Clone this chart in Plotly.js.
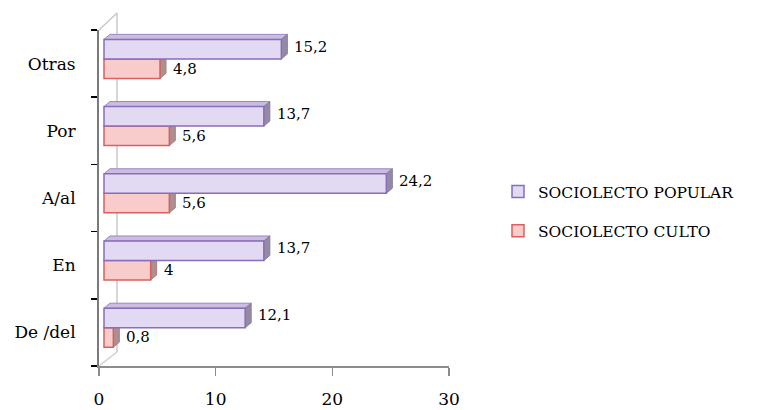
<!DOCTYPE html>
<html>
<head>
<meta charset="utf-8">
<script src="https://cdn.plot.ly/plotly-3.0.1.min.js"></script>
<style>
  html, body { margin: 0; padding: 0; background: #fff; }
  #chart { width: 760px; height: 410px; }
</style>
</head>
<body>
<div id="chart"></div>
<script>
// Preposition categories, bottom to top
var categories = ['De /del', 'En', 'A/al', 'Por', 'Otras'];
var popularValues = [12.1, 13.7, 24.2, 13.7, 15.2];
var cultoValues = [0.8, 4, 5.6, 5.6, 4.8];
var seriesNames = ['SOCIOLECTO POPULAR', 'SOCIOLECTO CULTO'];
var xTicks = [0, 10, 20, 30];

var FONT = 'DejaVu Serif, Liberation Serif, serif';
var PX_PER_UNIT = 350 / 30;          // horizontal scale of the value axis
var FRONT_SHIFT = 5 / PX_PER_UNIT;   // front faces sit slightly right of the back axis
var DX = 6 / PX_PER_UNIT;            // 3D depth, horizontal (value units)
var DY = 5 / 67;                     // 3D depth, vertical (category units)
var W = 0.29;                        // bar thickness
var POP_OFF = 0.07, CUL_OFF = -0.22; // bar offsets inside each category band

function fmt(v) { return String(v).replace('.', ','); }

var culto = {
  type: 'bar', orientation: 'h', name: seriesNames[1],
  y: categories, x: cultoValues, xaxis: 'x2', yaxis: 'y',
  width: W, offset: CUL_OFF, legendgroup: 'c', legendrank: 2,
  marker: { color: '#f9cccc', line: { color: '#d9605c', width: 1.5 } },
  hoverinfo: 'skip'
};
var popular = {
  type: 'bar', orientation: 'h', name: seriesNames[0],
  y: categories, x: popularValues, xaxis: 'x2', yaxis: 'y',
  width: W, offset: POP_OFF, legendgroup: 'p', legendrank: 1,
  marker: { color: '#e1daf2', line: { color: '#8a6cbc', width: 1.5 } },
  hoverinfo: 'skip'
};

// 3D top and side faces, derived from the bar values
var shapes = [];
function poly(pts) {
  return 'M' + pts.map(function (p) { return p[0] + ',' + p[1]; }).join('L') + 'Z';
}
categories.forEach(function (c, i) {
  var v = popularValues[i];
  var y0 = i + POP_OFF, y1 = i + POP_OFF + W;
  shapes.push({ type: 'path', xref: 'x2', yref: 'y', layer: 'below',
    path: poly([[0, y1], [v, y1], [v + DX, y1 + DY], [DX, y1 + DY]]),
    fillcolor: '#c9bee0', line: { color: '#9a84c4', width: 1 } });
  shapes.push({ type: 'path', xref: 'x2', yref: 'y', layer: 'below',
    path: poly([[v, y0], [v, y1], [v + DX, y1 + DY], [v + DX, y0 + DY]]),
    fillcolor: '#958aa6', line: { color: '#8a7c9c', width: 1 } });
  var u = cultoValues[i];
  var z0 = i + CUL_OFF, z1 = i + CUL_OFF + W;
  shapes.push({ type: 'path', xref: 'x2', yref: 'y', layer: 'below',
    path: poly([[u, z0], [u, z1], [u + DX, z1 + DY], [u + DX, z0 + DY]]),
    fillcolor: '#ad8f8f', line: { color: '#a08484', width: 1 } });
});

// back wall outline
var WALL_X = 18 / PX_PER_UNIT;
shapes.push({ type: 'line', xref: 'x', yref: 'paper', x0: WALL_X, x1: WALL_X,
  y0: 14 / 336, y1: 1 + 17 / 336, line: { color: '#c8c8c8', width: 1.5 }, layer: 'below' });
shapes.push({ type: 'line', xref: 'x', yref: 'paper', x0: 0, x1: WALL_X,
  y0: 1, y1: 1 + 17 / 336, line: { color: '#c8c8c8', width: 1.5 }, layer: 'below' });
shapes.push({ type: 'line', xref: 'x', yref: 'paper', x0: 0, x1: WALL_X,
  y0: 0, y1: 14 / 336, line: { color: '#d0d0d0', width: 1.5 }, layer: 'below' });

// value labels
var annotations = [];
categories.forEach(function (c, i) {
  annotations.push({ xref: 'x2', yref: 'y', x: popularValues[i] + DX,
    y: i + POP_OFF + W / 2 + DY / 2, text: fmt(popularValues[i]),
    showarrow: false, xanchor: 'left', xshift: 5, font: { family: FONT, size: 15, color: '#000' } });
  annotations.push({ xref: 'x2', yref: 'y', x: cultoValues[i] + DX,
    y: i + CUL_OFF + W / 2, text: fmt(cultoValues[i]),
    showarrow: false, xanchor: 'left', xshift: 5, font: { family: FONT, size: 15, color: '#000' } });
});

var layout = {
  width: 760, height: 410,
  margin: { l: 99, r: 311, t: 30, b: 44, pad: 0 },
  paper_bgcolor: '#fff', plot_bgcolor: 'rgba(0,0,0,0)',
  font: { family: FONT, size: 15, color: '#000' },
  barmode: 'overlay',
  separators: ',.',
  xaxis: {
    range: [0, 30], tickvals: xTicks, ticktext: xTicks.map(String),
    showgrid: false, zeroline: false, showline: true, linecolor: '#8c8c8c', linewidth: 1.5,
    ticks: 'outside', ticklen: 8, tickcolor: '#8c8c8c', tickwidth: 1.5,
    ticklabelstandoff: 9, tickfont: { family: FONT, size: 17 }, fixedrange: true
  },
  xaxis2: {
    range: [-FRONT_SHIFT, 30 - FRONT_SHIFT], overlaying: 'x', anchor: 'y',
    visible: false, fixedrange: true
  },
  yaxis: {
    type: 'category', categoryorder: 'array', categoryarray: categories,
    range: [-0.5, 4.5], tickson: 'boundaries',
    showgrid: false, zeroline: false, showline: true, linecolor: '#7a7a7a', linewidth: 2,
    ticks: 'outside', ticklen: 6, tickcolor: '#000', tickwidth: 1.5,
    ticklabelstandoff: 18, tickfont: { family: FONT, size: 17 }, fixedrange: true
  },
  showlegend: true,
  legend: {
    x: 1.14, xanchor: 'left', y: 0.46, yanchor: 'middle',
    traceorder: 'grouped', tracegroupgap: 16,
    font: { family: FONT, size: 15.5 }, bgcolor: 'rgba(0,0,0,0)'
  },
  shapes: shapes,
  annotations: annotations
};

Plotly.newPlot('chart', [culto, popular], layout, { staticPlot: true, displayModeBar: false });
</script>
</body>
</html>
